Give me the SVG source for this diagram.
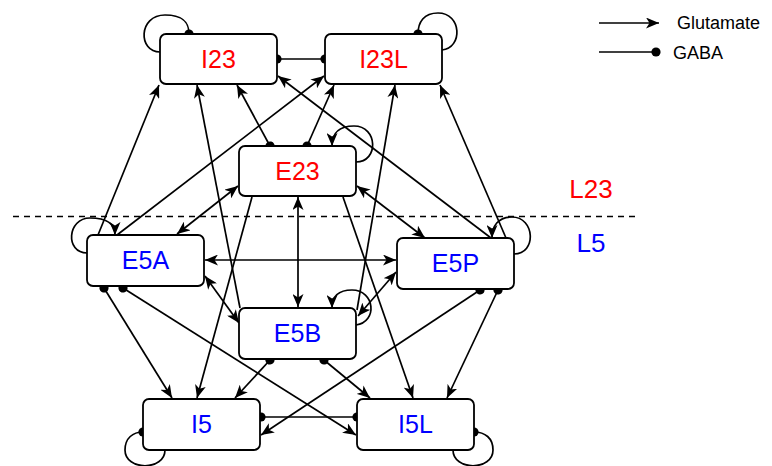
<svg xmlns="http://www.w3.org/2000/svg" width="772" height="466" viewBox="0 0 772 466">
  <style>
    .box { fill: #ffffff; stroke: #000000; stroke-width: 1.8; }
    .lbl { font-family: "Liberation Sans", Arial, sans-serif; font-size: 25px; text-anchor: middle; }
    .l23 { fill: #ff0000; }
    .l5 { fill: #0000ff; }
    .edge { fill: none; stroke: #000000; stroke-width: 1.7; }
    .exc { marker-end: url(#arrow); }
    .both { marker-start: url(#arrow); marker-end: url(#arrow); }
    .inh { marker-end: url(#dot); }
    .mix { marker-start: url(#dot); marker-end: url(#arrow); }
    .mutual { marker-start: url(#dot); marker-end: url(#dot); }
    .legend { font-family: "Liberation Sans", Arial, sans-serif; font-size: 18px; fill: #000000; }
    .layer { font-family: "Liberation Sans", Arial, sans-serif; font-size: 26px; text-anchor: middle; }
  </style>
  <defs>
    <marker id="arrow" viewBox="0 0 13 11" refX="13" refY="5.5" markerWidth="13" markerHeight="11" markerUnits="userSpaceOnUse" orient="auto-start-reverse">
      <path d="M0,0 L13,5.5 L0,11 L3.5,5.5 z" fill="#000000"/>
    </marker>
    <marker id="dot" viewBox="0 0 10 10" refX="5" refY="5" markerWidth="10" markerHeight="10" markerUnits="userSpaceOnUse" orient="auto">
      <circle cx="5" cy="5" r="4.6" fill="#000000"/>
    </marker>
  </defs>

  <!-- layer boundary -->
  <line x1="13" y1="216.5" x2="636" y2="216.5" stroke="#000000" stroke-width="1.6" stroke-dasharray="6,5"/>
  <text class="layer l23" x="591" y="198">L23</text>
  <text class="layer l5" x="591" y="252">L5</text>

  <!-- legend -->
  <g id="legend">
    <line class="edge exc" x1="599" y1="23" x2="659" y2="23"/>
    <text class="legend" x="677" y="29">Glutamate</text>
    <line class="edge inh" x1="599" y1="52" x2="656" y2="52"/>
    <text class="legend" x="673" y="59">GABA</text>
  </g>

  <!-- connectors -->
  <g id="connectors">
    <!-- self loops -->
    <path class="edge inh" d="M160,52 C138,52 138,15 165,15 C185,15 189,24 189,34"/>
    <path class="edge inh" d="M442,50 C463,48 462,13 438,13 C424,13 418,22 418,34"/>
    <path class="edge exc" d="M356,162 C379,162 378,126 354,126 C339,126 332,133 332,146"/>
    <path class="edge exc" d="M87,253 C65,253 67,218 90,218 C108,218 115,224 115,235"/>
    <path class="edge exc" d="M514,254 C537,254 535,217 512,217 C498,217 492,226 492,238"/>
    <path class="edge exc" d="M356,325 C378,322 375,290 352,290 C338,290 332,296 332,308"/>
    <path class="edge inh" d="M165,450 C165,471 125,471 125,450 C125,438 133,432 143,432"/>
    <path class="edge inh" d="M453,450 C453,471 493,471 493,450 C493,438 485,432 474,432"/>

    <!-- L23 interneurons -->
    <line class="edge mutual" x1="277" y1="59" x2="325" y2="59"/>
    <line class="edge mix" x1="270" y1="146" x2="237" y2="85"/>
    <line class="edge mix" x1="307" y1="146" x2="334" y2="85"/>

    <!-- projections to L23 interneurons -->
    <line class="edge exc" x1="98" y1="235" x2="159" y2="85"/>
    <line class="edge exc" x1="240" y1="308" x2="197" y2="85"/>
    <line class="edge exc" x1="117" y1="235" x2="324" y2="76"/>
    <line class="edge exc" x1="491" y1="238" x2="278" y2="76"/>
    <line class="edge exc" x1="506" y1="238" x2="440" y2="85"/>
    <line class="edge exc" x1="357" y1="310" x2="395" y2="85"/>

    <!-- excitatory pathways between pyramidal groups -->
    <line class="edge both" x1="238" y1="186" x2="177" y2="234"/>
    <line class="edge both" x1="357" y1="186" x2="425" y2="238"/>
    <line class="edge both" x1="298" y1="197" x2="298" y2="307"/>
    <line class="edge both" x1="205" y1="260" x2="396" y2="260"/>
    <line class="edge both" x1="205" y1="276" x2="239" y2="323"/>
    <line class="edge both" x1="396" y1="272" x2="358" y2="316"/>

    <!-- projections to L5 interneurons -->
    <line class="edge exc" x1="252" y1="197" x2="197" y2="398"/>
    <line class="edge exc" x1="343" y1="197" x2="413" y2="398"/>
    <line class="edge mix" x1="104" y1="288" x2="172" y2="398"/>
    <line class="edge mix" x1="123" y1="288" x2="356" y2="435"/>
    <line class="edge mix" x1="480" y1="290" x2="261" y2="435"/>
    <line class="edge mix" x1="498" y1="290" x2="447" y2="398"/>
    <line class="edge mix" x1="270" y1="360" x2="235" y2="398"/>
    <line class="edge mix" x1="324" y1="360" x2="370" y2="398"/>
    <line class="edge mutual" x1="261" y1="417" x2="357" y2="417"/>
  </g>

  <!-- nodes -->
  <g id="I23">
    <rect class="box" x="160" y="34" width="117" height="50" rx="6"/>
    <text class="lbl l23" x="218.5" y="68">I23</text>
  </g>
  <g id="I23L">
    <rect class="box" x="325" y="34" width="117" height="50" rx="6"/>
    <text class="lbl l23" x="383.5" y="68">I23L</text>
  </g>
  <g id="E23">
    <rect class="box" x="239" y="146" width="117" height="50" rx="6"/>
    <text class="lbl l23" x="297.5" y="180">E23</text>
  </g>
  <g id="E5A">
    <rect class="box" x="87" y="235" width="117" height="51" rx="6"/>
    <text class="lbl l5" x="145.5" y="269">E5A</text>
  </g>
  <g id="E5P">
    <rect class="box" x="397" y="238" width="117" height="51" rx="6"/>
    <text class="lbl l5" x="455.5" y="272">E5P</text>
  </g>
  <g id="E5B">
    <rect class="box" x="239" y="308" width="117" height="51" rx="6"/>
    <text class="lbl l5" x="297.5" y="342">E5B</text>
  </g>
  <g id="I5">
    <rect class="box" x="143" y="399" width="117" height="51" rx="6"/>
    <text class="lbl l5" x="201.5" y="433">I5</text>
  </g>
  <g id="I5L">
    <rect class="box" x="357" y="399" width="117" height="51" rx="6"/>
    <text class="lbl l5" x="415.5" y="433">I5L</text>
  </g>
</svg>
